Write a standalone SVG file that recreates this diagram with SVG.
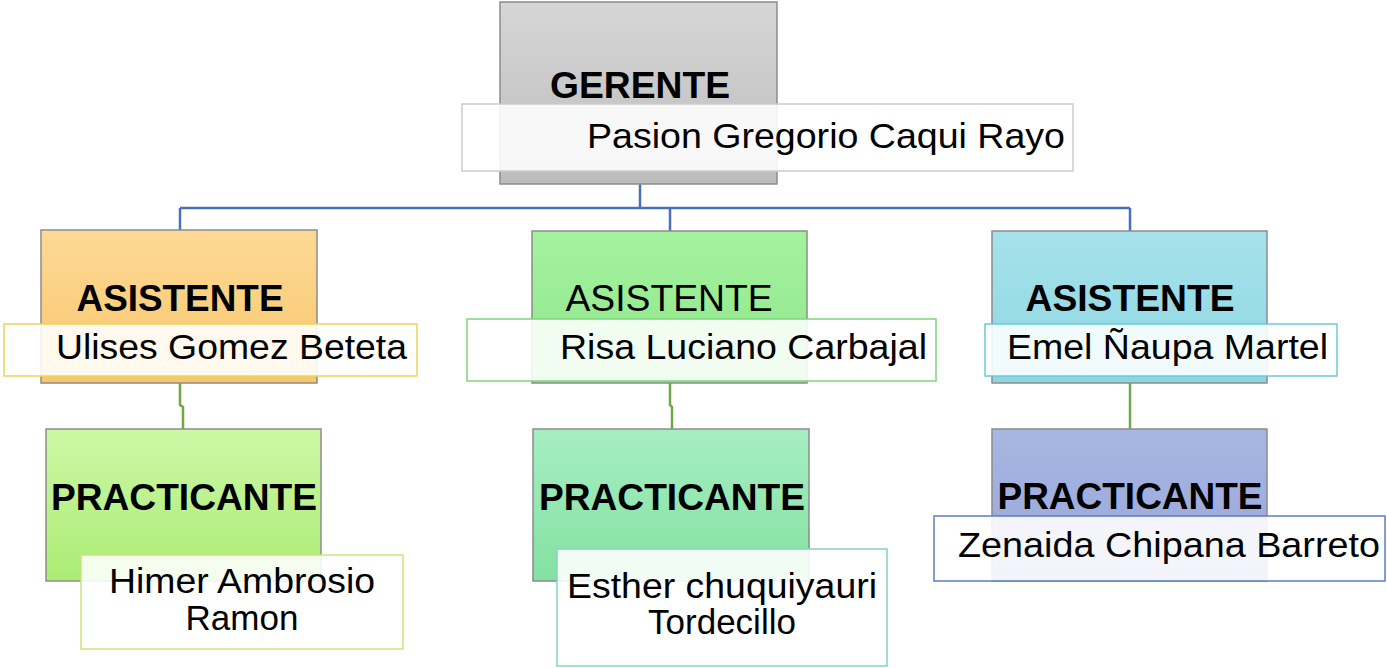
<svg xmlns="http://www.w3.org/2000/svg" width="1387" height="668" viewBox="0 0 1387 668">
<style>
  .role{font-family:"Liberation Sans",Arial,sans-serif;font-size:36px;font-weight:bold;fill:#000}
  .role-r{font-family:"Liberation Sans",Arial,sans-serif;font-size:36px;fill:#000}
  .name{font-family:"Liberation Sans",Arial,sans-serif;font-size:35px;fill:#000}
  .box{stroke:#8c8c8c;stroke-width:1.5}
  .nb{fill:#ffffff;fill-opacity:0.88;stroke-width:1.5}
  .blue{fill:none;stroke:#4a6fbf;stroke-width:2.5}
  .green{fill:none;stroke:#6fa84a;stroke-width:2.5}
</style>
<defs>
  <linearGradient id="gGray" x1="0" y1="0" x2="0" y2="1"><stop offset="0" stop-color="#d6d6d6"/><stop offset="1" stop-color="#bcbcbc"/></linearGradient>
  <linearGradient id="gOrange" x1="0" y1="0" x2="0" y2="1"><stop offset="0" stop-color="#fdd995"/><stop offset="1" stop-color="#f8c66c"/></linearGradient>
  <linearGradient id="gGreen" x1="0" y1="0" x2="0" y2="1"><stop offset="0" stop-color="#a4f29e"/><stop offset="1" stop-color="#8ee68a"/></linearGradient>
  <linearGradient id="gCyan" x1="0" y1="0" x2="0" y2="1"><stop offset="0" stop-color="#a6e2ea"/><stop offset="1" stop-color="#8cd6e2"/></linearGradient>
  <linearGradient id="gLime" x1="0" y1="0" x2="0" y2="1"><stop offset="0" stop-color="#cdf8a6"/><stop offset="1" stop-color="#abec74"/></linearGradient>
  <linearGradient id="gMint" x1="0" y1="0" x2="0" y2="1"><stop offset="0" stop-color="#a6eec2"/><stop offset="1" stop-color="#84e0a2"/></linearGradient>
  <linearGradient id="gPeri" x1="0" y1="0" x2="0" y2="1"><stop offset="0" stop-color="#a8b6e2"/><stop offset="1" stop-color="#97a6da"/></linearGradient>
</defs>
<rect width="1387" height="668" fill="#ffffff"/>

<g id="connectors">
  <path class="blue" d="M640 184 V208 M180 208 H1130 M180 208 V231 M670 208 V231 M1130 208 V231"/>
  <path class="green" d="M180 383 V405 L183 407 V429"/>
  <path class="green" d="M670 383 V405 L672 407 V429"/>
  <path class="green" d="M1130 383 V429"/>
</g>

<g id="gerente">
  <rect class="box" x="500" y="2" width="277" height="182" fill="url(#gGray)"/>
  <text class="role" x="640" y="98" text-anchor="middle" textLength="180" lengthAdjust="spacingAndGlyphs">GERENTE</text>
  <rect class="nb" x="462" y="104" width="611" height="67" stroke="#cccccc"/>
  <text class="name" x="587" y="148" textLength="478" lengthAdjust="spacingAndGlyphs">Pasion Gregorio Caqui Rayo</text>
</g>

<g id="asistente1">
  <rect class="box" x="41" y="230" width="276" height="153" fill="url(#gOrange)"/>
  <text class="role" x="180" y="311" text-anchor="middle" textLength="207" lengthAdjust="spacingAndGlyphs">ASISTENTE</text>
  <rect class="nb" x="4" y="324" width="413" height="52" stroke="#ecd55a"/>
  <text class="name" x="56" y="359" textLength="351" lengthAdjust="spacingAndGlyphs">Ulises Gomez Beteta</text>
</g>

<g id="asistente2">
  <rect class="box" x="532" y="231" width="275" height="152" fill="url(#gGreen)"/>
  <text class="role-r" x="669" y="311" text-anchor="middle" textLength="207" lengthAdjust="spacingAndGlyphs">ASISTENTE</text>
  <rect class="nb" x="467" y="319" width="469" height="62" stroke="#7ed67a"/>
  <text class="name" x="560" y="359" textLength="367" lengthAdjust="spacingAndGlyphs">Risa Luciano Carbajal</text>
</g>

<g id="asistente3">
  <rect class="box" x="992" y="231" width="275" height="152" fill="url(#gCyan)"/>
  <text class="role" x="1130" y="311" text-anchor="middle" textLength="209" lengthAdjust="spacingAndGlyphs">ASISTENTE</text>
  <rect class="nb" x="985" y="324" width="352" height="52" stroke="#6ccad6"/>
  <text class="name" x="1007" y="359" textLength="321" lengthAdjust="spacingAndGlyphs">Emel Ñaupa Martel</text>
</g>

<g id="practicante1">
  <rect class="box" x="46" y="429" width="275" height="152" fill="url(#gLime)"/>
  <text class="role" x="184" y="510" text-anchor="middle" textLength="266" lengthAdjust="spacingAndGlyphs">PRACTICANTE</text>
  <rect class="nb" x="81" y="555" width="322" height="94" stroke="#c6e87a"/>
  <text class="name" x="242" y="593" text-anchor="middle" textLength="266" lengthAdjust="spacingAndGlyphs">Himer Ambrosio</text>
  <text class="name" x="242" y="630" text-anchor="middle">Ramon</text>
</g>

<g id="practicante2">
  <rect class="box" x="533" y="429" width="276" height="152" fill="url(#gMint)"/>
  <text class="role" x="672" y="510" text-anchor="middle" textLength="266" lengthAdjust="spacingAndGlyphs">PRACTICANTE</text>
  <rect class="nb" x="557" y="549" width="330" height="117" stroke="#80d8b2"/>
  <text class="name" x="722" y="598" text-anchor="middle" textLength="310" lengthAdjust="spacingAndGlyphs">Esther chuquiyauri</text>
  <text class="name" x="722" y="634" text-anchor="middle">Tordecillo</text>
</g>

<g id="practicante3">
  <rect class="box" x="992" y="429" width="275" height="152" fill="url(#gPeri)"/>
  <text class="role" x="1130" y="509" text-anchor="middle" textLength="265" lengthAdjust="spacingAndGlyphs">PRACTICANTE</text>
  <rect class="nb" x="934" y="516" width="451" height="65" stroke="#5b7cc2"/>
  <text class="name" x="958" y="557" textLength="422" lengthAdjust="spacingAndGlyphs">Zenaida Chipana Barreto</text>
</g>
</svg>
